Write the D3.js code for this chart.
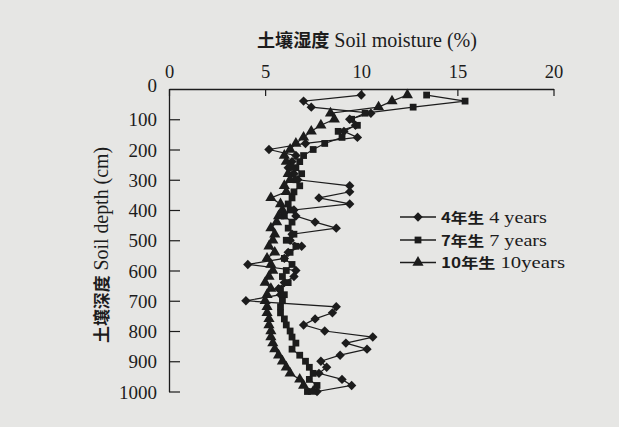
<!DOCTYPE html>
<html>
<head>
<meta charset="utf-8">
<script src="https://cdn.jsdelivr.net/npm/d3@7"></script>
<style>
  html, body { margin: 0; padding: 0; background: #e6e6e4; }
  svg { display: block; }
  text, tspan { fill: #1c1c1c; }
  .lat { font-family: "Liberation Serif", "Times New Roman", serif; }
  .cjk { font-family: "Noto Sans CJK SC", sans-serif; font-weight: 700; }
</style>
</head>
<body>
<svg id="chart" width="619" height="427"></svg>
<script>
/* Soil moisture profile by stand age */
const depths = d3.range(20, 1001, 20);   // cm, 50 layers

const years4 = [
  10.0, 7.0, 7.4, 10.5, 9.4, 9.7, 9.1, 9.8, 7.1, 5.2,
  6.6, 6.4, 6.2, 6.5, 6.7, 9.4, 9.4, 7.8, 9.4, 6.5,
  6.6, 7.6, 8.7, 6.4, 6.3, 6.9, 6.2, 6.0, 4.1, 6.6,
  6.5, 6.0, 5.7, 5.8, 4.0, 8.7, 8.5, 7.6, 7.0, 8.1,
  10.6, 9.2, 10.3, 8.9, 7.9, 8.2, 7.8, 9.0, 9.5, 7.7
];
const years7 = [
  13.4, 15.4, 12.7, 10.2, 9.5, 9.8, 8.8, 9.0, 8.1, 7.5,
  7.0, 6.8, 6.6, 6.9, 6.6, 6.8, 6.5, 6.4, 6.2, 6.3,
  6.0, 6.4, 6.2, 6.5, 6.1, 6.6, 6.3, 6.0, 6.4, 6.1,
  5.9, 6.2, 5.8, 6.0, 5.9, 5.8, 5.8, 6.0, 6.1, 6.3,
  6.4, 6.6, 6.4, 6.8, 7.1, 7.3, 7.5, 7.3, 7.7, 7.2
];
const years10 = [
  12.4, 11.6, 10.9, 8.4, 8.6, 7.9, 7.4, 7.0, 6.6, 6.3,
  6.0, 6.1, 6.4, 6.2, 6.3, 6.0, 6.1, 5.3, 5.8, 5.9,
  5.7, 5.6, 5.3, 5.5, 5.4, 5.2, 5.5, 5.1, 5.3, 5.4,
  5.2, 5.0, 5.3, 5.1, 5.0, 5.1, 5.1, 5.2, 5.2, 5.3,
  5.3, 5.4, 5.5, 5.7, 5.9, 6.1, 6.3, 6.8, 7.0, 7.5
];

const seriesCjk = ["4年生", "7年生", "10年生"];
const seriesEng = ["4 years", "7 years", "10years"];
const xTicks = [0, 5, 10, 15, 20];
const yTicks = d3.range(0, 1001, 100);

const svg = d3.select("#chart");
const ink = "#1c1c1c";

const x = d3.scaleLinear().domain([0, 20]).range([169, 553.5]);
const y = d3.scaleLinear().domain([0, 1000]).range([89, 391.5]);

/* ── axes: top + left, ticks pointing inward ── */
const xAxis = svg.append("g").attr("transform", `translate(0,${y(0)})`)
  .call(d3.axisTop(x).tickValues(xTicks).tickFormat(d3.format("d"))
    .tickSize(-7).tickSizeOuter(0).tickPadding(13));
const yAxis = svg.append("g").attr("transform", `translate(${x(0)},0)`)
  .call(d3.axisLeft(y).tickValues(yTicks).tickFormat(d3.format("d"))
    .tickSize(-11).tickSizeOuter(0).tickPadding(12));

[xAxis, yAxis].forEach(g => {
  g.attr("font-family", null).attr("font-size", null);
  g.select(".domain").attr("stroke", ink).attr("stroke-width", 1.3);
  g.selectAll(".tick line").attr("stroke", ink).attr("stroke-width", 1.2);
  g.selectAll(".tick text").attr("class", "lat").attr("fill", ink);
});
xAxis.selectAll(".tick text").style("font-size", "18.5px").attr("dy", "0.1em");
yAxis.selectAll(".tick text").style("font-size", "19px").attr("dy", "0.35em");
yAxis.selectAll(".tick").filter(d => d === 0).select("text").attr("dy", "0.12em");
yAxis.selectAll(".tick").filter(d => d === 0).select("line").remove();

/* ── mixed CJK / Latin labels, stretched to the scan's width ── */
function mixedLabel(t, cjk, eng, cjkSize, latSize, width) {
  t.append("tspan").attr("class", "cjk").style("font-size", cjkSize + "px").text(cjk);
  t.append("tspan").attr("class", "lat").style("font-size", latSize + "px").text(" " + eng);
  t.attr("textLength", width).attr("lengthAdjust", "spacingAndGlyphs");
}
svg.append("text").attr("x", 367).attr("y", 46.5).attr("text-anchor", "middle")
  .call(mixedLabel, "土壤湿度", "Soil moisture (%)", 18, 20, 220);
svg.append("text").attr("transform", "translate(108,245) rotate(-90)")
  .attr("text-anchor", "middle")
  .call(mixedLabel, "土壤深度", "Soil depth (cm)", 17, 20, 196);

/* ── markers ── */
const symbols = [
  d3.symbol().type(d3.symbolDiamond2).size(56),
  d3.symbol().type(d3.symbolSquare).size(46),
  d3.symbol().type(d3.symbolTriangle).size(54)
];

const allSeries = [years4, years7, years10];
const line = d3.line().x(d => x(d[1])).y(d => y(d[0]));

allSeries.forEach((vals, i) => {
  const pts = depths.map((dp, k) => [dp, vals[k]]);
  const g = svg.append("g");
  g.append("path").datum(pts).attr("d", line)
    .attr("fill", "none").attr("stroke", ink).attr("stroke-width", 1.2);
  g.selectAll("path.mk").data(pts).join("path").attr("class", "mk")
    .attr("transform", d => `translate(${x(d[1])},${y(d[0])})`)
    .attr("d", symbols[i]()).attr("fill", ink);
});

/* ── legend ── */
const legendRows = [217, 240, 262.5];
const legendWidths = [106, 106, 124];
const lg = svg.append("g");
seriesCjk.forEach((cjk, i) => {
  const ly = legendRows[i];
  lg.append("line").attr("x1", 400).attr("x2", 436).attr("y1", ly).attr("y2", ly)
    .attr("stroke", ink).attr("stroke-width", 1.3);
  lg.append("path").attr("transform", `translate(418,${ly})`).attr("d", symbols[i]()).attr("fill", ink);
  lg.append("text").attr("x", 441).attr("y", ly + 5.5)
    .call(mixedLabel, cjk, seriesEng[i], 14, 17, legendWidths[i]);
});
</script>
</body>
</html>
